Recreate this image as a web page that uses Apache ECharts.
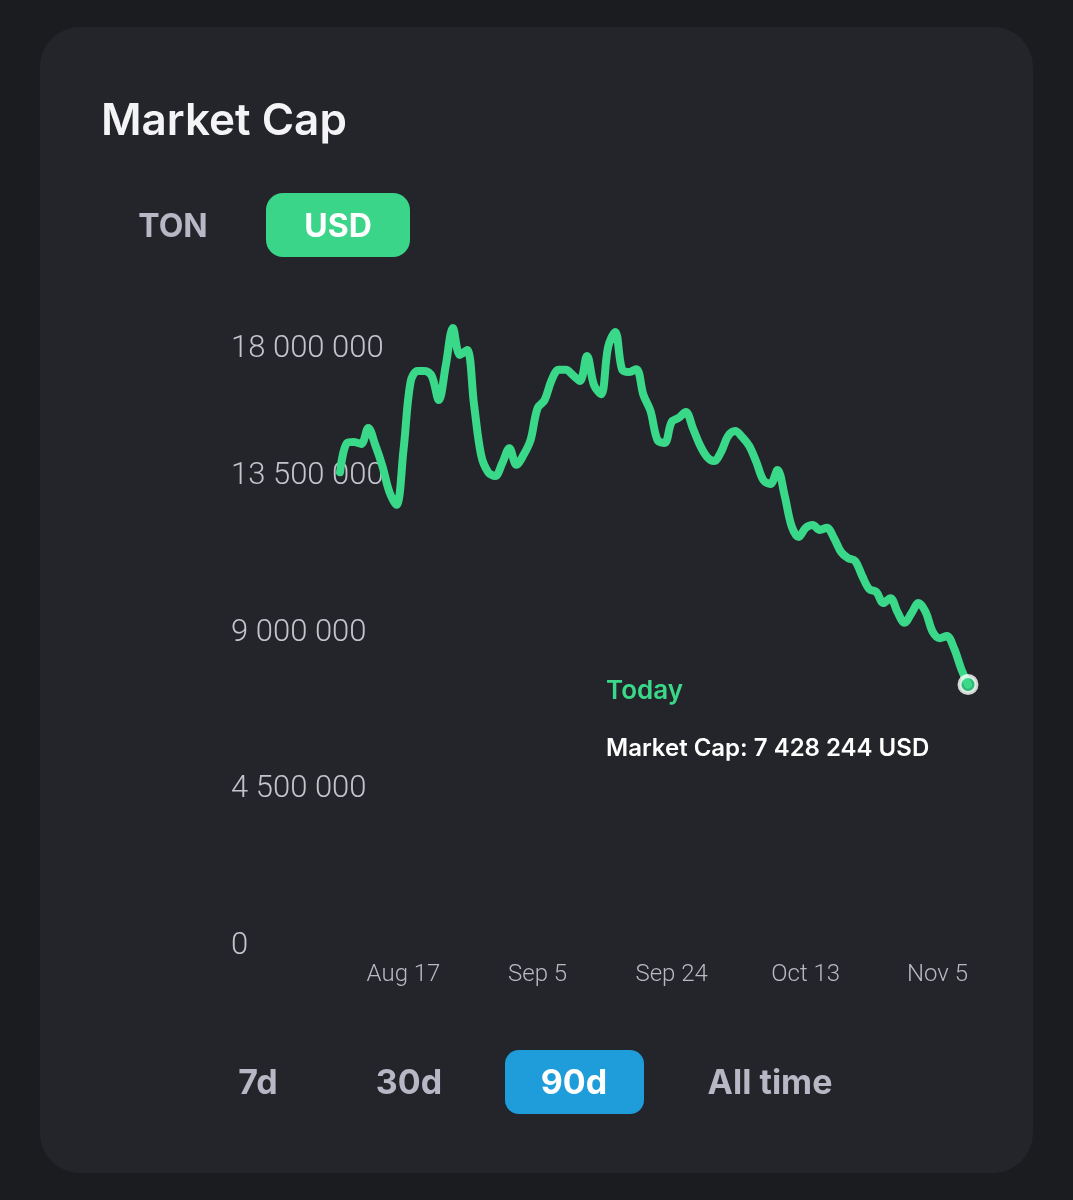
<!DOCTYPE html>
<html>
<head>
<meta charset="utf-8">
<script src="https://cdn.jsdelivr.net/npm/echarts@6/dist/echarts.min.js"></script>
<style>
  html, body { margin: 0; padding: 0; background: #1b1c20; }
  #chart { width: 1073px; height: 1200px; }
</style>
</head>
<body>
<div id="chart"></div>
<script>
// ---- Data ----
const dates = [
  'Aug 8','Aug 9','Aug 10','Aug 11','Aug 12','Aug 13','Aug 14','Aug 15','Aug 16','Aug 17',
  'Aug 18','Aug 19','Aug 20','Aug 21','Aug 22','Aug 23','Aug 24','Aug 25','Aug 26','Aug 27',
  'Aug 28','Aug 29','Aug 30','Aug 31','Sep 1','Sep 2','Sep 3','Sep 4','Sep 5','Sep 6',
  'Sep 7','Sep 8','Sep 9','Sep 10','Sep 11','Sep 12','Sep 13','Sep 14','Sep 15','Sep 16',
  'Sep 17','Sep 18','Sep 19','Sep 20','Sep 21','Sep 22','Sep 23','Sep 24','Sep 25','Sep 26',
  'Sep 27','Sep 28','Sep 29','Sep 30','Oct 1','Oct 2','Oct 3','Oct 4','Oct 5','Oct 6',
  'Oct 7','Oct 8','Oct 9','Oct 10','Oct 11','Oct 12','Oct 13','Oct 14','Oct 15','Oct 16',
  'Oct 17','Oct 18','Oct 19','Oct 20','Oct 21','Oct 22','Oct 23','Oct 24','Oct 25','Oct 26',
  'Oct 27','Oct 28','Oct 29','Oct 30','Oct 31','Nov 1','Nov 2','Nov 3','Nov 4','Nov 5'
];
const marketCapUsd = [
  13530000, 14370000, 14400000, 14340000, 14800000, 14310000, 13710000, 12960000, 12590000, 14170000,
  16120000, 16440000, 16440000, 16290000, 15600000, 16610000, 17670000, 16900000, 17040000, 15460000,
  14020000, 13530000, 13420000, 13790000, 14220000, 13740000, 14020000, 14450000, 15370000, 15600000,
  16180000, 16470000, 16470000, 16320000, 16150000, 16870000, 16030000, 15770000, 17130000, 17560000,
  16470000, 16410000, 16490000, 15750000, 15290000, 14450000, 14370000, 14970000, 15090000, 15260000,
  14800000, 14310000, 13970000, 13850000, 14110000, 14570000, 14710000, 14540000, 14280000, 13820000,
  13300000, 13190000, 13590000, 12870000, 11980000, 11670000, 11930000, 12010000, 11870000, 11930000,
  11640000, 11240000, 11060000, 10980000, 10550000, 10170000, 10090000, 9770000, 9910000, 9510000,
  9200000, 9480000, 9770000, 9510000, 8940000, 8760000, 8820000, 8480000, 7900000, 7428244
];
const xTickLabels = ['Aug 17', 'Sep 5', 'Sep 24', 'Oct 13', 'Nov 5'];
const yTickValues = [0, 4500000, 9000000, 13500000, 18000000];
const currencyButtons = ['TON', 'USD'];
const periodButtons = ['7d', '30d', '90d', 'All time'];
const tooltipTitle = 'Today';
const tooltipLabel = 'Market Cap';
const tooltipUnit = 'USD';

// ---- Helpers ----
function fmt(v) {
  return String(Math.round(v)).replace(/\B(?=(\d{3})+(?!\d))/g, ' ');
}
const GREEN = '#3ad98a';
const lastIdx = marketCapUsd.length - 1;
const lastVal = marketCapUsd[lastIdx];

const chart = echarts.init(document.getElementById('chart'), null, { renderer: 'canvas' });

const yLabelStyle = { color: '#c4c4cc', fontFamily: 'Roboto', fontWeight: 300, fontSize: 31 };

const option = {
  backgroundColor: '#1b1c20',
  animation: false,
  grid: { left: 340, right: 105, top: 316.6, bottom: 257, containLabel: false },
  xAxis: {
    type: 'category',
    data: dates,
    boundaryGap: false,
    axisLine: { show: false },
    axisTick: { show: false },
    splitLine: { show: false },
    axisLabel: {
      interval: function (index, value) { return xTickLabels.indexOf(value) >= 0; },
      color: '#b9b9c2',
      fontFamily: 'Roboto',
      fontWeight: 300,
      fontSize: 24,
      margin: 20,
      alignMaxLabel: 'right'
    }
  },
  yAxis: {
    type: 'value',
    min: 0,
    max: 18000000,
    interval: 4500000,
    axisLine: { show: false },
    axisTick: { show: false },
    splitLine: { show: false },
    axisLabel: {
      align: 'left',
      margin: 109,
      color: '#c4c4cc',
      fontFamily: 'Roboto',
      fontWeight: 300,
      fontSize: 31,
      formatter: function (v) {
        if (yTickValues.indexOf(v) < 0) return '';
        if (v === 18000000) return '{top|' + fmt(v) + '}';
        return '{n|' + fmt(v) + '}';
      },
      rich: {
        top: Object.assign({ padding: [66, 0, 0, 0] }, yLabelStyle),
        n: Object.assign({ padding: [6, 0, 0, 0] }, yLabelStyle)
      }
    }
  },
  series: [
    {
      type: 'line',
      data: marketCapUsd,
      smooth: 0.35,
      showSymbol: false,
      symbol: 'none',
      clip: false,
      lineStyle: { color: GREEN, width: 8, cap: 'round', join: 'round' },
      z: 3
    },
    {
      type: 'scatter',
      data: [[lastIdx, lastVal]],
      symbol: 'circle',
      symbolSize: 17,
      clip: false,
      itemStyle: { color: GREEN, borderColor: '#ffffff', borderWidth: 4 },
      z: 4
    }
  ],
  graphic: [
    {
      type: 'rect', z: -10, silent: true,
      shape: { x: 40, y: 27, width: 993, height: 1146, r: 40 },
      style: { fill: '#24252a' }
    },
    {
      type: 'text', x: 101, y: 122,
      style: { text: 'Market Cap', fill: '#f4f4f6', font: '600 44px Inter', align: 'left', verticalAlign: 'middle' }
    },
    {
      type: 'text', x: 173, y: 227,
      style: { text: currencyButtons[0], fill: '#b8b7c5', font: '700 32px Inter', align: 'center', verticalAlign: 'middle' }
    },
    {
      type: 'rect',
      shape: { x: 266, y: 193, width: 144, height: 64, r: 17 },
      style: { fill: '#3bd58a' }
    },
    {
      type: 'text', x: 338, y: 227,
      style: { text: currencyButtons[1], fill: '#ffffff', font: '700 32px Inter', align: 'center', verticalAlign: 'middle' }
    },
    {
      type: 'text', x: 606, y: 691,
      style: { text: tooltipTitle, fill: GREEN, font: '600 26px Inter', align: 'left', verticalAlign: 'middle' }
    },
    {
      type: 'text', x: 606, y: 749,
      style: { text: tooltipLabel + ': ' + fmt(lastVal) + ' ' + tooltipUnit, fill: '#ffffff', font: '600 24px Inter', align: 'left', verticalAlign: 'middle' }
    },
    {
      type: 'text', x: 258, y: 1084,
      style: { text: periodButtons[0], fill: '#b8b7c5', font: '700 34px Inter', align: 'center', verticalAlign: 'middle' }
    },
    {
      type: 'text', x: 409, y: 1084,
      style: { text: periodButtons[1], fill: '#b8b7c5', font: '700 34px Inter', align: 'center', verticalAlign: 'middle' }
    },
    {
      type: 'rect',
      shape: { x: 505, y: 1050, width: 139, height: 64, r: 14 },
      style: { fill: '#1f9ddb' }
    },
    {
      type: 'text', x: 574, y: 1084,
      style: { text: periodButtons[2], fill: '#ffffff', font: '700 34px Inter', align: 'center', verticalAlign: 'middle' }
    },
    {
      type: 'text', x: 770, y: 1084,
      style: { text: periodButtons[3], fill: '#b8b7c5', font: '700 34px Inter', align: 'center', verticalAlign: 'middle' }
    }
  ]
};

chart.setOption(option);
</script>
</body>
</html>
